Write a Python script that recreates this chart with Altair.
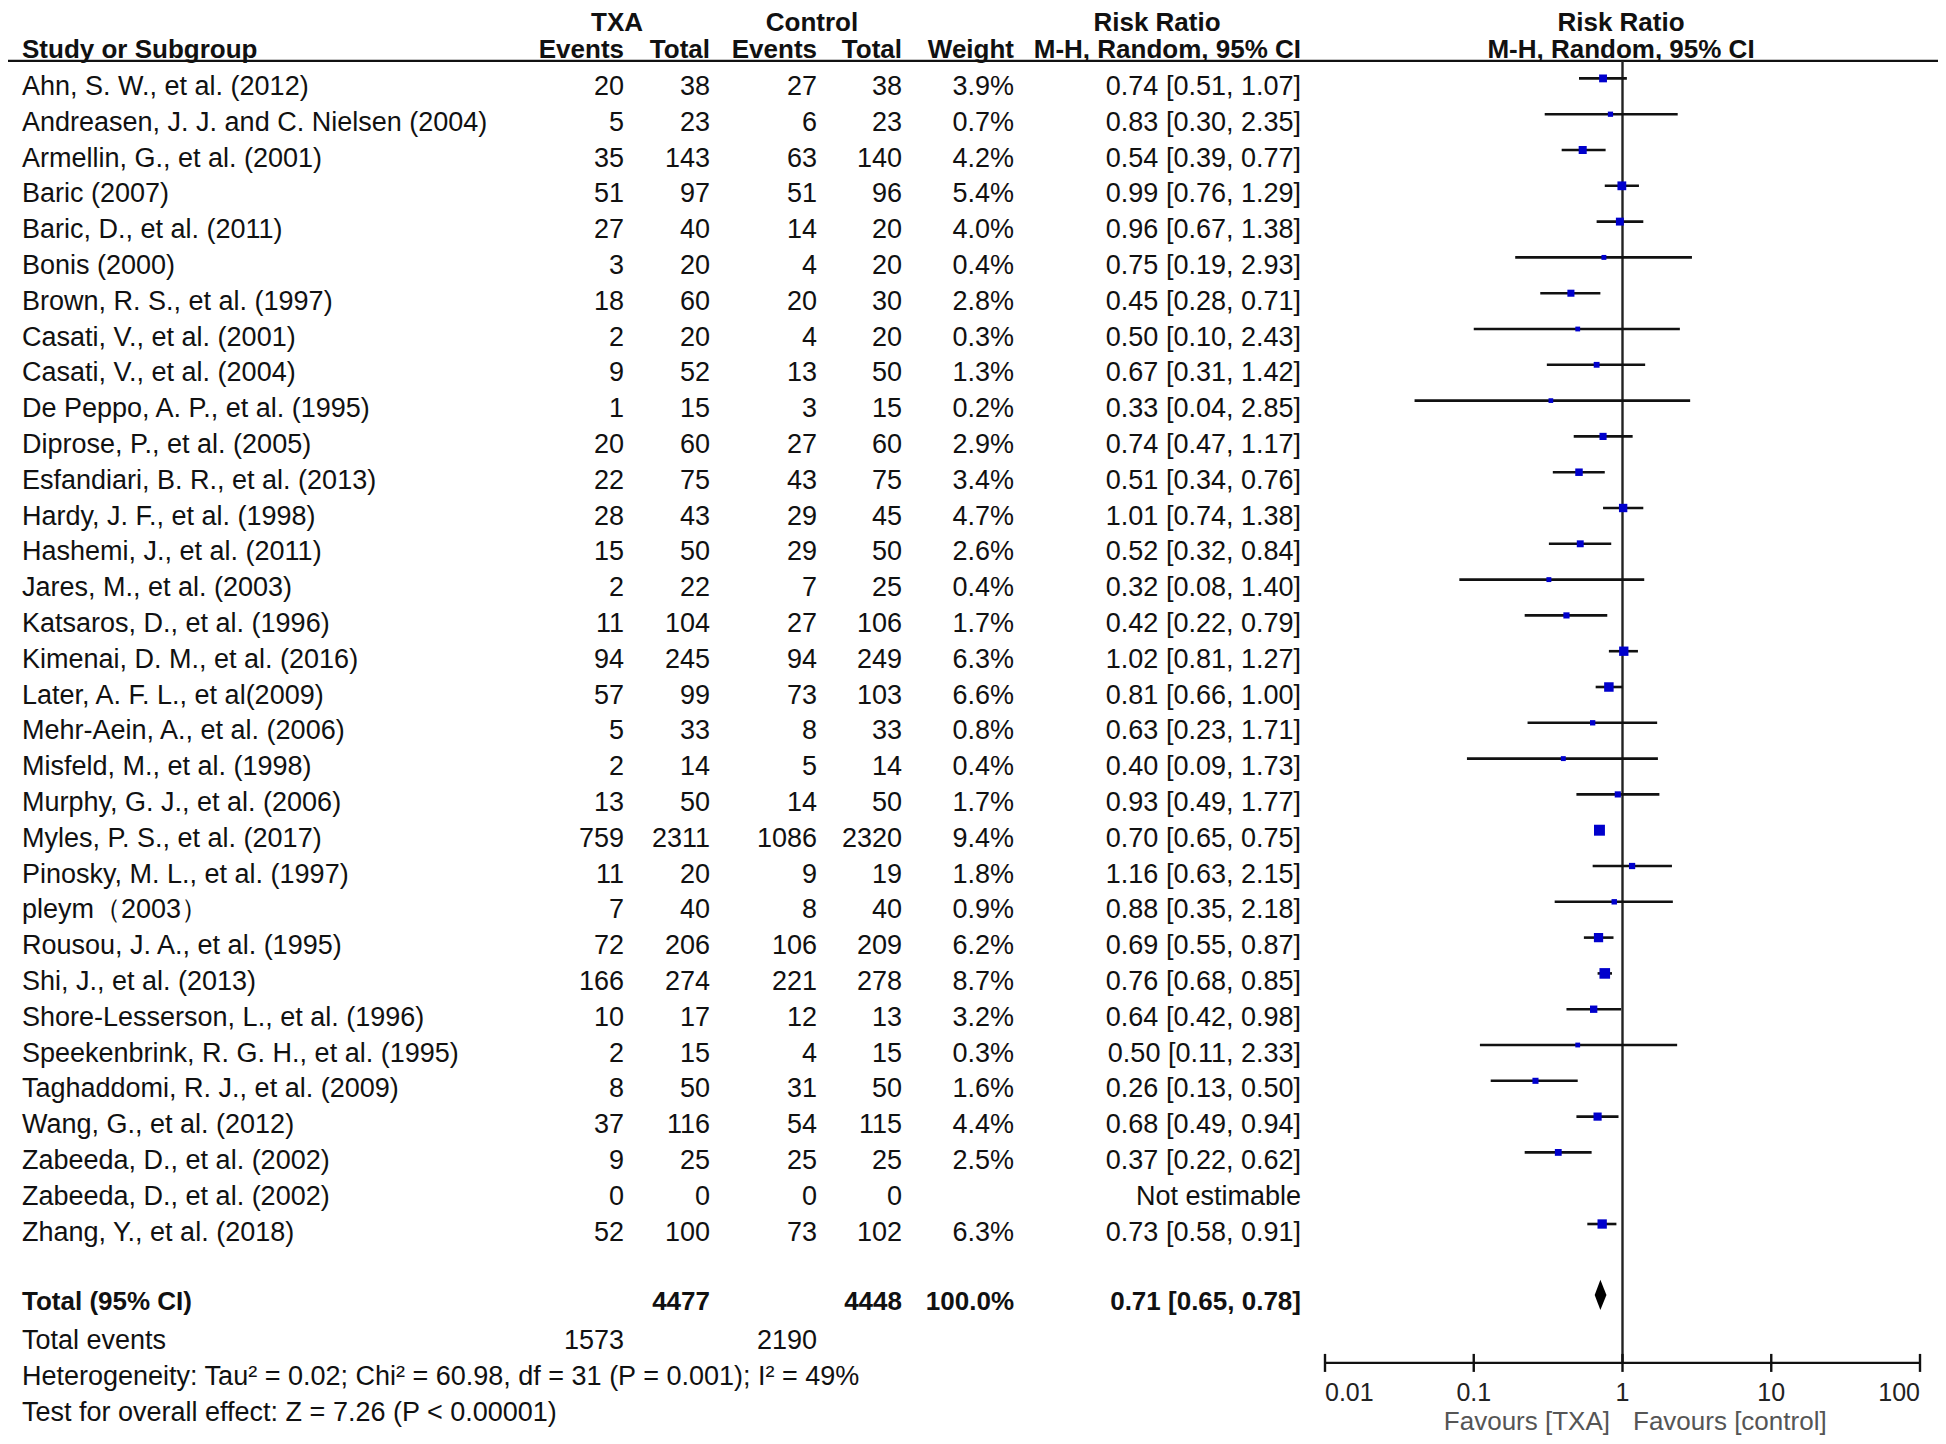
import altair as alt
import pandas as pd

# ---------------- data ----------------
studies = [
    "Ahn, S. W., et al. (2012)", "Andreasen, J. J. and C. Nielsen (2004)",
    "Armellin, G., et al. (2001)", "Baric (2007)", "Baric, D., et al. (2011)",
    "Bonis (2000)", "Brown, R. S., et al. (1997)", "Casati, V., et al. (2001)",
    "Casati, V., et al. (2004)", "De Peppo, A. P., et al. (1995)",
    "Diprose, P., et al. (2005)", "Esfandiari, B. R., et al. (2013)",
    "Hardy, J. F., et al. (1998)", "Hashemi, J., et al. (2011)",
    "Jares, M., et al. (2003)", "Katsaros, D., et al. (1996)",
    "Kimenai, D. M., et al. (2016)", "Later, A. F. L., et al(2009)",
    "Mehr-Aein, A., et al. (2006)", "Misfeld, M., et al. (1998)",
    "Murphy, G. J., et al. (2006)", "Myles, P. S., et al. (2017)",
    "Pinosky, M. L., et al. (1997)", "pleym\uff082003\uff09",
    "Rousou, J. A., et al. (1995)", "Shi, J., et al. (2013)",
    "Shore-Lesserson, L., et al. (1996)", "Speekenbrink, R. G. H., et al. (1995)",
    "Taghaddomi, R. J., et al. (2009)", "Wang, G., et al. (2012)",
    "Zabeeda, D., et al. (2002)", "Zabeeda, D., et al. (2002)",
    "Zhang, Y., et al. (2018)",
]
txa_events = [20, 5, 35, 51, 27, 3, 18, 2, 9, 1, 20, 22, 28, 15, 2, 11, 94, 57, 5, 2,
              13, 759, 11, 7, 72, 166, 10, 2, 8, 37, 9, 0, 52]
txa_total = [38, 23, 143, 97, 40, 20, 60, 20, 52, 15, 60, 75, 43, 50, 22, 104, 245, 99,
             33, 14, 50, 2311, 20, 40, 206, 274, 17, 15, 50, 116, 25, 0, 100]
ctrl_events = [27, 6, 63, 51, 14, 4, 20, 4, 13, 3, 27, 43, 29, 29, 7, 27, 94, 73, 8, 5,
               14, 1086, 9, 8, 106, 221, 12, 4, 31, 54, 25, 0, 73]
ctrl_total = [38, 23, 140, 96, 20, 20, 30, 20, 50, 15, 60, 75, 45, 50, 25, 106, 249, 103,
              33, 14, 50, 2320, 19, 40, 209, 278, 13, 15, 50, 115, 25, 0, 102]
weight = [3.9, 0.7, 4.2, 5.4, 4.0, 0.4, 2.8, 0.3, 1.3, 0.2, 2.9, 3.4, 4.7, 2.6, 0.4, 1.7,
          6.3, 6.6, 0.8, 0.4, 1.7, 9.4, 1.8, 0.9, 6.2, 8.7, 3.2, 0.3, 1.6, 4.4, 2.5, None, 6.3]
rr = [0.74, 0.83, 0.54, 0.99, 0.96, 0.75, 0.45, 0.50, 0.67, 0.33, 0.74, 0.51, 1.01, 0.52,
      0.32, 0.42, 1.02, 0.81, 0.63, 0.40, 0.93, 0.70, 1.16, 0.88, 0.69, 0.76, 0.64, 0.50,
      0.26, 0.68, 0.37, None, 0.73]
rr_lo = [0.51, 0.30, 0.39, 0.76, 0.67, 0.19, 0.28, 0.10, 0.31, 0.04, 0.47, 0.34, 0.74, 0.32,
         0.08, 0.22, 0.81, 0.66, 0.23, 0.09, 0.49, 0.65, 0.63, 0.35, 0.55, 0.68, 0.42, 0.11,
         0.13, 0.49, 0.22, None, 0.58]
rr_hi = [1.07, 2.35, 0.77, 1.29, 1.38, 2.93, 0.71, 2.43, 1.42, 2.85, 1.17, 0.76, 1.38, 0.84,
         1.40, 0.79, 1.27, 1.00, 1.71, 1.73, 1.77, 0.75, 2.15, 2.18, 0.87, 0.85, 0.98, 2.33,
         0.50, 0.94, 0.62, None, 0.91]

total_txa, total_ctrl = 4477, 4448
events_txa, events_ctrl = 1573, 2190
total_rr, total_lo, total_hi = 0.71, 0.65, 0.78
heterogeneity = "Heterogeneity: Tau\u00b2 = 0.02; Chi\u00b2 = 60.98, df = 31 (P = 0.001); I\u00b2 = 49%"
overall = "Test for overall effect: Z = 7.26 (P < 0.00001)"
tick_values = [0.01, 0.1, 1, 10, 100]
tick_labels = ["0.01", "0.1", "1", "10", "100"]

# ---------------- layout ----------------
W, H = 1930, 1428
Y0, DY = 79.0, 35.8
FONT = "Liberation Sans, Arial, Helvetica, sans-serif"
FS = 27       # regular text
FSB = 26      # bold text
INK = "#111111"


def px(r):
    return Y0 + DY * r


yscale = alt.Scale(domain=[-Y0 / DY, (H - Y0) / DY], range=[0, H], nice=False, zero=False)
xscale = alt.Scale(type="log", domain=[0.01, 100], range=[1317, 1912], nice=False)

n = len(studies)
df = pd.DataFrame({
    "row": list(range(n)),
    "name": studies,
    "te": [str(v) for v in txa_events],
    "tt": [str(v) for v in txa_total],
    "ce": [str(v) for v in ctrl_events],
    "ct": [str(v) for v in ctrl_total],
    "w": ["" if w is None else f"{w:.1f}%" for w in weight],
    "rrt": ["Not estimable" if r is None else f"{r:.2f} [{l:.2f}, {h:.2f}]"
            for r, l, h in zip(rr, rr_lo, rr_hi)],
})
forest = pd.DataFrame({"row": list(range(n)), "rr": rr, "lo": rr_lo, "hi": rr_hi,
                       "weight": weight}).dropna()
forest["ci"] = forest["row"] - 0.24


def col(field, x, align="right"):
    return alt.Chart(df).mark_text(
        align=align, baseline="middle", font=FONT, fontSize=FS, color=INK
    ).encode(
        x=alt.value(x),
        y=alt.Y("row:Q", scale=yscale, axis=None),
        text=f"{field}:N",
    )


def label(text, x, row, align="left", bold=False, size=None, color=INK):
    if size is None:
        size = FSB if bold else FS
    return alt.Chart(pd.DataFrame({"t": [text]})).mark_text(
        align=align, baseline="middle", font=FONT, fontSize=size, color=color,
        fontWeight="bold" if bold else "normal",
    ).encode(x=alt.value(x), y=alt.value(px(row)), text="t:N")


layers = []

# headers
HR1, HR2 = -1.78, -1.03
layers += [
    label("TXA", 609, HR1, "center", True),
    label("Control", 804, HR1, "center", True),
    label("Risk Ratio", 1149, HR1, "center", True),
    label("Risk Ratio", 1613, HR1, "center", True),
    label("Study or Subgroup", 14, HR2, "left", True),
    label("Events", 616, HR2, "right", True),
    label("Total", 702, HR2, "right", True),
    label("Events", 809, HR2, "right", True),
    label("Total", 894, HR2, "right", True),
    label("Weight", 1006, HR2, "right", True),
    label("M-H, Random, 95% CI", 1293, HR2, "right", True),
    label("M-H, Random, 95% CI", 1613, HR2, "center", True),
]
layers.append(
    alt.Chart(pd.DataFrame({"a": [0]})).mark_rule(color="#111", strokeWidth=2.2).encode(
        x=alt.value(0), x2=alt.value(W), y=alt.value(px(-0.732))
    )
)

# table body
layers += [
    col("name", 14, "left"),
    col("te", 616), col("tt", 702), col("ce", 809), col("ct", 894),
    col("w", 1006), col("rrt", 1293),
]

# totals and footer
layers += [
    label("Total (95% CI)", 14, 33.95, "left", True),
    label(str(total_txa), 702, 33.95, "right", True),
    label(str(total_ctrl), 894, 33.95, "right", True),
    label("100.0%", 1006, 33.95, "right", True),
    label(f"{total_rr:.2f} [{total_lo:.2f}, {total_hi:.2f}]", 1293, 33.95, "right", True),
    label("Total events", 14, 35.02),
    label(str(events_txa), 616, 35.02, "right"),
    label(str(events_ctrl), 809, 35.02, "right"),
    label(heterogeneity, 14, 36.03),
    label(overall, 14, 37.03),
]

# forest plot: line of no effect
layers.append(
    alt.Chart(pd.DataFrame({"x": [1.0]})).mark_rule(color="#222", strokeWidth=2.4).encode(
        x=alt.X("x:Q", scale=xscale, axis=None),
        y=alt.value(px(-0.732)), y2=alt.value(px(35.64)),
    )
)
# confidence intervals
layers.append(
    alt.Chart(forest).mark_rule(color="#111", strokeWidth=2.6).encode(
        x=alt.X("lo:Q", scale=xscale, axis=None), x2="hi:Q",
        y=alt.Y("ci:Q", scale=yscale, axis=None),
    )
)
# point estimates
layers.append(
    alt.Chart(forest).mark_square(color="#0000cc", opacity=1, filled=True).encode(
        x=alt.X("rr:Q", scale=xscale, axis=None),
        y=alt.Y("ci:Q", scale=yscale, axis=None),
        size=alt.Size("weight:Q", scale=alt.Scale(domain=[0, 9.4], range=[20, 120]), legend=None),
    )
)
# pooled diamond
diamond = pd.DataFrame({"x": [total_lo, total_rr, total_hi], "half": [0.0, 0.42, 0.0]})
layers.append(
    alt.Chart(diamond).mark_area(color="#000", orient="vertical", interpolate="linear").transform_calculate(
        y0="33.74 - datum.half", y1="33.74 + datum.half"
    ).encode(
        x=alt.X("x:Q", scale=xscale, axis=None),
        y=alt.Y("y0:Q", scale=yscale, axis=None), y2="y1:Q",
    )
)

# manual axis
ticks = pd.DataFrame({"t": tick_values, "lab": tick_labels, "i": list(range(len(tick_values)))})
axis_y = px(35.64)
layers.append(
    alt.Chart(pd.DataFrame({"a": [tick_values[0]], "b": [tick_values[-1]]})).mark_rule(
        color="#111", strokeWidth=2.4
    ).encode(x=alt.X("a:Q", scale=xscale, axis=None), x2="b:Q", y=alt.value(axis_y))
)
layers.append(
    alt.Chart(ticks).mark_rule(color="#111", strokeWidth=2.4).encode(
        x=alt.X("t:Q", scale=xscale, axis=None),
        y=alt.value(axis_y - 9), y2=alt.value(axis_y + 9),
    )
)
last = len(tick_values) - 1
for cond, al in [("datum.i == 0", "left"), (f"datum.i > 0 && datum.i < {last}", "center"),
                 (f"datum.i == {last}", "right")]:
    layers.append(
        alt.Chart(ticks).transform_filter(cond).mark_text(
            align=al, baseline="middle", font=FONT, fontSize=25, color="#222"
        ).encode(
            x=alt.X("t:Q", scale=xscale, axis=None),
            y=alt.value(px(36.47)), text="lab:N",
        )
    )
layers += [
    label("Favours [TXA]", 1602, 37.30, "right", False, 26, "#555"),
    label("Favours [control]", 1625, 37.30, "left", False, 26, "#555"),
]

chart = alt.layer(*layers).properties(
    width=W, height=H, padding=0, autosize=alt.AutoSizeParams(type="none"),
    background="white",
).configure_view(stroke=None)

chart.save("out.html", embed_options={"renderer": "svg", "actions": False})
